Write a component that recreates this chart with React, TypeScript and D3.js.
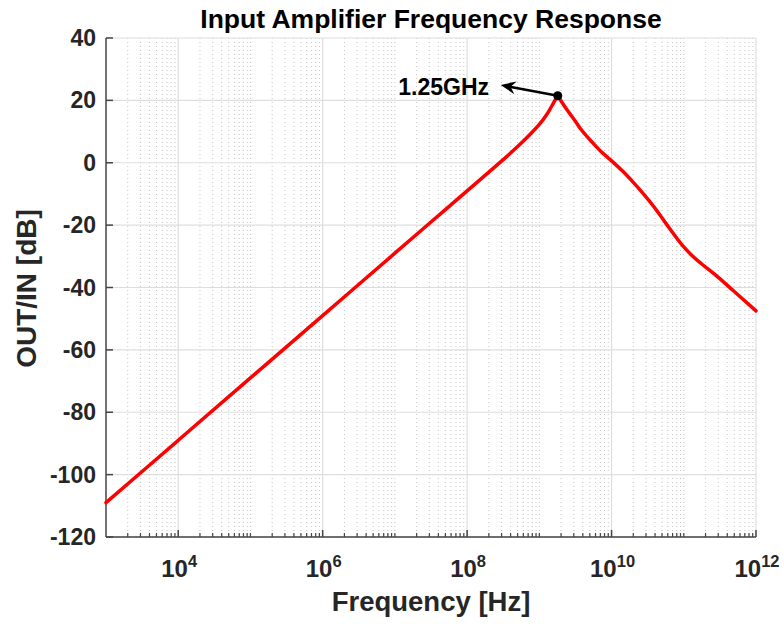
import React from "react";
import * as d3 from "d3";

// ---- data ----
const freqHz = [
  1e3, 1e4, 1e5, 1e6, 1e7, 3.16e7, 1e8, 2e8, 3.16e8, 5e8, 7.08e8, 1e9, 1.26e9,
  1.43e9, 1.58e9, 1.8e9, 2e9, 2.43e9, 3.16e9, 3.72e9, 5e9, 7.08e9, 1e10,
  1.41e10, 2e10, 2.82e10, 3.98e10, 5.89e10, 7.94e10, 1e11, 1.32e11, 1.74e11,
  2.95e11, 5e11, 1e12,
];
const gainDb = [
  -109, -89, -69, -49, -29, -19, -9, -3, 1, 5.2, 8.6, 12.3, 15.4, 17.5, 19.3,
  21.5, 19.8, 16.9, 13.3, 10.9, 7.4, 3.7, 0.6, -2.6, -6.3, -10.2, -14.5, -20,
  -24.1, -27, -29.9, -32.3, -36.6, -41.3, -47.5,
];
const peakIndex = 15;
const peakLabel = "1.25GHz";
const yTicks = [40, 20, 0, -20, -40, -60, -80, -100, -120];
const xMajorExp = [4, 6, 8, 10, 12];
const titleText = "Input Amplifier Frequency Response";
const xLabelText = "Frequency [Hz]";
const yLabelText = "OUT/IN [dB]";

const W = 784;
const H = 624;
const M = { left: 106, right: 756, top: 38, bottom: 537 };
const FONT = "'Liberation Sans', Arial, Helvetica, sans-serif";
const TXT = "#262626";

export default function App() {
  const x = d3.scaleLog().domain([1e3, 1e12]).range([M.left, M.right]);
  const y = d3.scaleLinear().domain([-120, 40]).range([M.bottom, M.top]);

  // minor grid: 2..10 x 10^n, skipping major (even) decades
  const minor: number[] = [];
  for (let n = 3; n < 12; n++) {
    for (let k = 2; k <= 10; k++) {
      const v = k * Math.pow(10, n);
      const e = Math.log10(v);
      if (k === 10 && e % 2 === 0) continue;
      minor.push(v);
    }
  }

  const pts = freqHz.map((f, i) => [f, gainDb[i]] as [number, number]);
  const rising = pts.slice(0, peakIndex + 1);
  const falling = pts.slice(peakIndex);
  const line = d3
    .line<[number, number]>()
    .x((d) => x(d[0]))
    .y((d) => y(d[1]))
    .curve(d3.curveCatmullRom.alpha(0.5));

  const px = x(freqHz[peakIndex]);
  const py = y(gainDb[peakIndex]);
  const tipX = px - 57;
  const tipY = py - 10.7;
  const dx = px - tipX;
  const dy = py - tipY;
  const len = Math.hypot(dx, dy);
  const ux = dx / len;
  const uy = dy / len;
  const nx = -uy;
  const ny = ux;
  const hl = 15;
  const hw = 6.5;
  const head = [
    [tipX, tipY],
    [tipX + ux * hl + nx * hw, tipY + uy * hl + ny * hw],
    [tipX + ux * 10, tipY + uy * 10],
    [tipX + ux * hl - nx * hw, tipY + uy * hl - ny * hw],
  ];

  const axisColor = "#454545";

  return (
    <svg
      width={W}
      height={H}
      style={{ position: "absolute", left: 0, top: 0, background: "#fff" }}
      fontFamily={FONT}
    >
      {/* minor vertical grid */}
      {minor.map((v, i) => (
        <line
          key={"mg" + i}
          x1={x(v)}
          x2={x(v)}
          y1={M.top}
          y2={M.bottom}
          stroke="#c4c4c4"
          strokeWidth={1}
          strokeDasharray="1 3"
        />
      ))}
      {/* major vertical grid */}
      {xMajorExp.map((e) => (
        <line
          key={"xg" + e}
          x1={x(Math.pow(10, e))}
          x2={x(Math.pow(10, e))}
          y1={M.top}
          y2={M.bottom}
          stroke="#dedede"
          strokeWidth={1.2}
        />
      ))}
      {/* major horizontal grid */}
      {yTicks.map((t) => (
        <line
          key={"yg" + t}
          x1={M.left}
          x2={M.right}
          y1={y(t)}
          y2={y(t)}
          stroke="#dedede"
          strokeWidth={1.2}
        />
      ))}

      {/* axes */}
      <line x1={M.left} x2={M.left} y1={M.top} y2={M.bottom} stroke={axisColor} strokeWidth={1.5} />
      <line x1={M.left} x2={M.right} y1={M.bottom} y2={M.bottom} stroke={axisColor} strokeWidth={1.5} />
      {yTicks.map((t) => (
        <line key={"yt" + t} x1={M.left} x2={M.left + 7} y1={y(t)} y2={y(t)} stroke={axisColor} strokeWidth={1.5} />
      ))}
      {xMajorExp.map((e) => (
        <line
          key={"xt" + e}
          x1={x(Math.pow(10, e))}
          x2={x(Math.pow(10, e))}
          y1={M.bottom}
          y2={M.bottom - 7}
          stroke={axisColor}
          strokeWidth={1.5}
        />
      ))}
      {minor.map((v, i) => (
        <line
          key={"mt" + i}
          x1={x(v)}
          x2={x(v)}
          y1={M.bottom}
          y2={M.bottom - 4}
          stroke={axisColor}
          strokeWidth={1.2}
        />
      ))}

      {/* y tick labels */}
      {yTicks.map((t) => (
        <text
          key={"yl" + t}
          x={96}
          y={y(t) + 8}
          textAnchor="end"
          fontSize={23}
          fontWeight="bold"
          fill={TXT}
        >
          {t}
        </text>
      ))}
      {/* x tick labels */}
      {xMajorExp.map((e) => (
        <text
          key={"xl" + e}
          x={x(Math.pow(10, e)) + 1}
          y={576.5}
          textAnchor="middle"
          fontSize={24}
          fontWeight="bold"
          fill={TXT}
        >
          10
          <tspan fontSize={16.5} dy={-10}>
            {e}
          </tspan>
        </text>
      ))}

      {/* curve */}
      <path d={line(rising) || ""} fill="none" stroke="#ff0000" strokeWidth={3.5} strokeLinejoin="round" strokeLinecap="round" />
      <path d={line(falling) || ""} fill="none" stroke="#ff0000" strokeWidth={3.5} strokeLinejoin="round" strokeLinecap="round" />

      {/* annotation */}
      <line x1={px} y1={py} x2={tipX + ux * 9} y2={tipY + uy * 9} stroke="#000" strokeWidth={2.5} />
      <path d={"M" + head.map((p) => p.join(",")).join("L") + "Z"} fill="#000" />
      <circle cx={px} cy={py} r={4.5} fill="#000" />
      <text x={489} y={95} textAnchor="end" fontSize={23} fontWeight="bold" fill="#000">
        {peakLabel}
      </text>

      {/* title & labels */}
      <text x={(M.left + M.right) / 2} y={28} textAnchor="middle" fontSize={26.5} fontWeight="bold" fill="#000">
        {titleText}
      </text>
      <text x={(M.left + M.right) / 2} y={611} textAnchor="middle" fontSize={27.5} fontWeight="bold" fill={TXT}>
        {xLabelText}
      </text>
      <text
        transform={`translate(36,${(M.top + M.bottom) / 2 + 1}) rotate(-90)`}
        textAnchor="middle"
        fontSize={28}
        fontWeight="bold"
        fill={TXT}
      >
        {yLabelText}
      </text>
    </svg>
  );
}
